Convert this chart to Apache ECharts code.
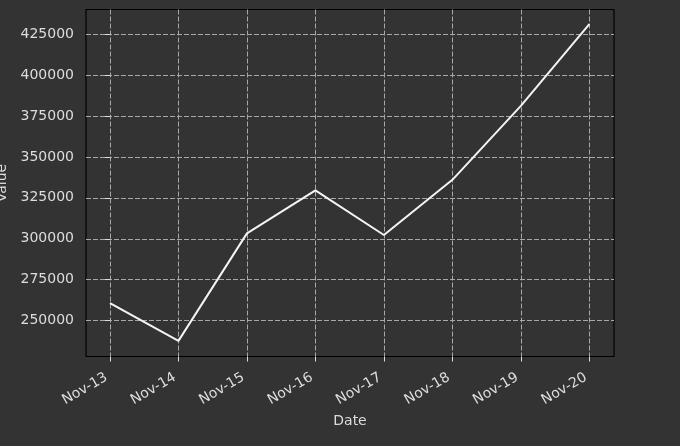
<!DOCTYPE html>
<html>
<head>
<meta charset="utf-8">
<style>
  html, body { margin: 0; padding: 0; background: #333333; }
  #chart { width: 680px; height: 446px; }
</style>
<script src="https://cdn.jsdelivr.net/npm/echarts@6/dist/echarts.min.js"></script>
</head>
<body>
<div id="chart"></div>
<script>
const categories = ['Nov-13', 'Nov-14', 'Nov-15', 'Nov-16', 'Nov-17', 'Nov-18', 'Nov-19', 'Nov-20'];
const values = [260700, 237700, 303300, 329500, 302300, 336000, 381100, 431000];
const yTicks = [250000, 275000, 300000, 325000, 350000, 375000, 400000, 425000];
const xTicks = categories.map((c, i) => i);

const textColor = '#dddddd';
const gridColor = '#a8a8a8';
const font = 'DejaVu Sans';

const chart = echarts.init(document.getElementById('chart'), null, { renderer: 'canvas' });
chart.setOption({
  backgroundColor: '#333333',
  animation: false,
  grid: {
    left: 86, right: 66, top: 9.5, bottom: 89.5,
    show: true, borderColor: '#000000', borderWidth: 1.2,
    backgroundColor: 'transparent', containLabel: false,
    outerBoundsMode: 'none'
  },
  xAxis: {
    type: 'value',
    min: -0.35, max: 7.36,
    name: 'Date', nameLocation: 'middle', nameGap: 54,
    nameTextStyle: { color: textColor, fontFamily: font, fontSize: 14 },
    axisLine: { show: false },
    axisTick: { show: true, length: 5, lineStyle: { color: textColor, width: 1 }, customValues: xTicks },
    axisLabel: {
      customValues: xTicks, rotate: 30, margin: 18, padding: [0, 4, 0, 0],
      color: textColor, fontFamily: font, fontSize: 14,
      formatter: v => categories[Math.round(v)] || ''
    },
    splitLine: { show: true, lineStyle: { color: gridColor, type: [5, 2], width: 1 } }
  },
  yAxis: {
    type: 'value',
    min: 228150, max: 439950,
    name: 'Value', nameLocation: 'middle', nameGap: 74,
    nameTextStyle: { color: textColor, fontFamily: font, fontSize: 14 },
    axisLine: { show: false },
    axisTick: { show: true, length: 5, lineStyle: { color: textColor, width: 1 }, customValues: yTicks },
    axisLabel: {
      customValues: yTicks, margin: 12,
      color: textColor, fontFamily: font, fontSize: 14,
      formatter: v => String(v)
    },
    splitLine: { show: true, lineStyle: { color: gridColor, type: [5, 2], width: 1 } }
  },
  series: [{
    type: 'line',
    data: values.map((v, i) => [i, v]),
    showSymbol: false,
    lineStyle: { color: '#f4f4f4', width: 2 },
    itemStyle: { color: '#f4f4f4' }
  }]
});
</script>
</body>
</html>
